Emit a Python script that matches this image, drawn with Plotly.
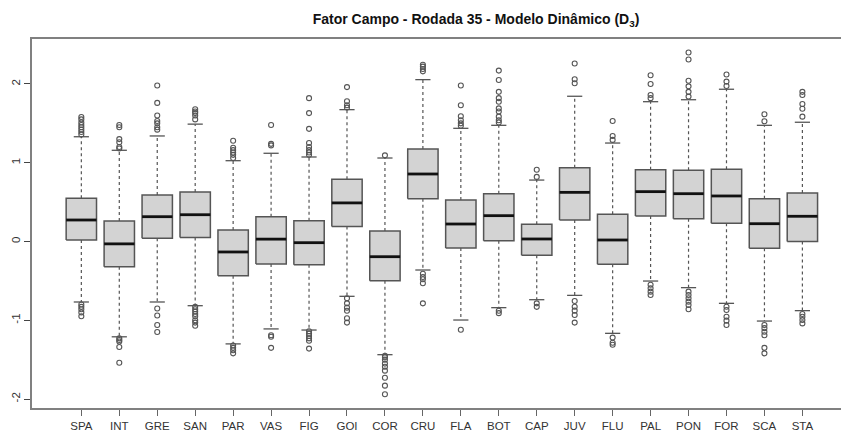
import plotly.graph_objects as go

teams = ["SPA","INT","GRE","SAN","PAR","VAS","FIG","GOI","COR","CRU",
         "FLA","BOT","CAP","JUV","FLU","PAL","PON","FOR","SCA","STA"]
q1 = [0.02,-0.32,0.04,0.05,-0.434,-0.286,-0.295,0.19,-0.497,0.544,
      -0.083,0.01,-0.176,0.273,-0.29,0.324,0.29,0.231,-0.087,0.0]
median = [0.273,-0.03,0.315,0.34,-0.133,0.03,-0.015,0.49,-0.193,0.857,
          0.222,0.328,0.032,0.624,0.019,0.633,0.607,0.578,0.226,0.32]
q3 = [0.55,0.26,0.59,0.63,0.146,0.315,0.264,0.79,0.133,1.175,
      0.527,0.607,0.218,0.937,0.345,0.912,0.904,0.916,0.544,0.616]
whisker_low = [-0.768,-1.21,-0.768,-0.815,-1.30,-1.11,-1.124,-0.696,-1.437,-0.362,
               -0.997,-0.84,-0.739,-0.684,-1.166,-0.502,-0.586,-0.785,-1.01,-0.878]
whisker_high = [1.33,1.158,1.34,1.49,1.026,1.12,1.073,1.674,1.06,2.055,
                1.437,1.475,0.78,1.844,1.25,1.775,1.80,1.933,1.475,1.514]
outliers_high = [
    [1.36,1.39,1.42,1.45,1.48,1.51,1.55,1.58],
    [1.18,1.20,1.26,1.30,1.45,1.48],
    [1.42,1.45,1.50,1.53,1.60,1.76,1.98],
    [1.55,1.60,1.63,1.65,1.68],
    [1.06,1.10,1.13,1.16,1.19,1.28],
    [1.22,1.24,1.48],
    [1.10,1.13,1.16,1.20,1.25,1.43,1.63,1.82],
    [1.70,1.73,1.78,1.96],
    [1.094],
    [2.16,2.19,2.22,2.245],
    [1.47,1.50,1.54,1.59,1.73,1.98],
    [1.51,1.54,1.585,1.65,1.69,1.775,1.82,1.90,2.05,2.17],
    [0.82,0.91],
    [2.01,2.06,2.26],
    [1.29,1.34,1.53],
    [1.82,1.86,2.00,2.11],
    [1.84,1.90,1.97,2.04,2.31,2.40],
    [1.975,2.03,2.12],
    [1.526,1.615],
    [1.585,1.686,1.746,1.86,1.90],
]
outliers_low = [
    [-0.80,-0.83,-0.86,-0.90,-0.95],
    [-1.23,-1.25,-1.27,-1.34,-1.54],
    [-0.85,-0.94,-1.06,-1.15],
    [-0.83,-0.86,-0.89,-0.92,-0.95,-1.00,-1.03,-1.07],
    [-1.32,-1.35,-1.38,-1.42],
    [-1.19,-1.21,-1.35],
    [-1.14,-1.17,-1.20,-1.23,-1.26,-1.36],
    [-0.72,-0.785,-0.84,-0.88,-0.975,-1.03],
    [-1.45,-1.47,-1.50,-1.55,-1.59,-1.64,-1.73,-1.83,-1.94],
    [-0.41,-0.45,-0.48,-0.53,-0.785],
    [-1.12],
    [-0.88,-0.91],
    [-0.785,-0.83],
    [-0.756,-0.828,-0.878,-0.933,-1.03],
    [-1.22,-1.285,-1.31],
    [-0.55,-0.595,-0.637,-0.68],
    [-0.637,-0.68,-0.72,-0.764,-0.806,-0.86],
    [-0.828,-0.87,-0.955,-1.005,-1.06],
    [-1.06,-1.10,-1.145,-1.19,-1.35,-1.42],
    [-0.92,-0.955,-0.997,-1.04],
]
y_ticks = [-2, -1, 0, 1, 2]
y_tick_labels = ["-2", "-1", "0", "1", "2"]

BW = 0.4   # half box width (category units)
SW = 0.2   # half staple width
pos = list(range(len(teams)))

# whiskers (dashed)
wx, wy = [], []
for i in pos:
    wx += [i, i, None, i, i, None]
    wy += [q3[i], whisker_high[i], None, q1[i], whisker_low[i], None]
# staples
sx, sy = [], []
for i in pos:
    sx += [i - SW, i + SW, None, i - SW, i + SW, None]
    sy += [whisker_high[i], whisker_high[i], None, whisker_low[i], whisker_low[i], None]
# boxes
bx, by = [], []
for i in pos:
    bx += [i - BW, i + BW, i + BW, i - BW, i - BW, None]
    by += [q1[i], q1[i], q3[i], q3[i], q1[i], None]
# medians
mx, my = [], []
for i in pos:
    mx += [i - BW, i + BW, None]
    my += [median[i], median[i], None]
# outliers
ox, oy = [], []
for i in pos:
    for v in outliers_high[i] + outliers_low[i]:
        ox.append(i)
        oy.append(v)

fig = go.Figure()
fig.add_trace(go.Scatter(x=wx, y=wy, mode="lines", hoverinfo="skip",
                         line=dict(color="#555555", width=1.2, dash="3px,3px")))
fig.add_trace(go.Scatter(x=sx, y=sy, mode="lines", hoverinfo="skip",
                         line=dict(color="#555555", width=1.3)))
fig.add_trace(go.Scatter(x=bx, y=by, mode="lines", fill="toself", fillcolor="#d3d3d3",
                         hoverinfo="skip", line=dict(color="#555555", width=1.5)))
fig.add_trace(go.Scatter(x=mx, y=my, mode="lines", hoverinfo="skip",
                         line=dict(color="#111111", width=2.8)))
fig.add_trace(go.Scatter(x=ox, y=oy, mode="markers", hoverinfo="skip",
                         marker=dict(symbol="circle-open", size=5, color="#555555",
                                     line=dict(width=1.1, color="#555555"))))

W, H = 841, 434
L, T, B = 32, 39, 26
px_per_cat = 37.95
fig.update_layout(
    width=W, height=H,
    margin=dict(l=L, r=0, t=T, b=B, pad=0),
    paper_bgcolor="white", plot_bgcolor="white",
    showlegend=False,
    font=dict(family="Liberation Sans, Arial, sans-serif", color="#333333", size=11),
    title=dict(text="<b>Fator Campo - Rodada 35 - Modelo Dinâmico</b> <b>(D<sub>3</sub>)</b>",
               x=476 / W, xref="container", xanchor="center",
               y=1 - 19 / H, yref="container", yanchor="middle",
               font=dict(size=14, color="#111111",
                         family="Liberation Sans, Arial, sans-serif")),
    xaxis=dict(range=[-1.3, -1.3 + (W - L) / px_per_cat],
               tickmode="array", tickvals=pos, ticktext=teams,
               ticks="outside", ticklen=6, tickcolor="#666666", tickwidth=1,
               showline=True, linecolor="#808080", linewidth=1.6, mirror=True,
               showgrid=False, zeroline=False,
               tickfont=dict(size=11.5, color="#333333")),
    yaxis=dict(range=[-2.114, 2.571],
               tickmode="array", tickvals=y_ticks, ticktext=y_tick_labels,
               ticks="outside", ticklen=6, tickcolor="#444444", tickwidth=1,
               tickangle=-90,
               showline=True, linecolor="#808080", linewidth=1.6,
               showgrid=False, zeroline=False,
               tickfont=dict(size=11.5, color="#333333")),
)

fig.write_html("out.html")
